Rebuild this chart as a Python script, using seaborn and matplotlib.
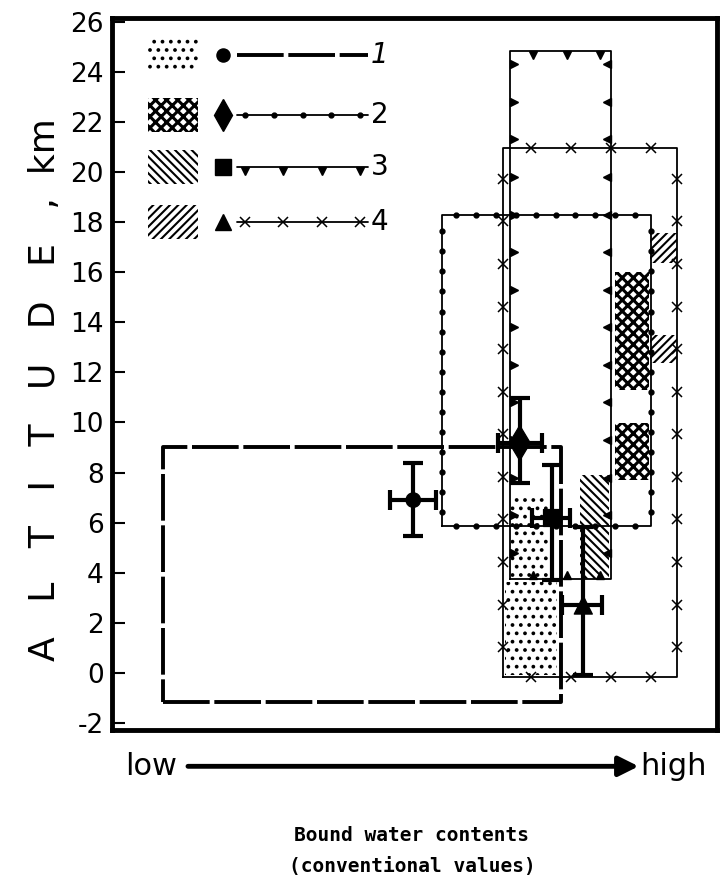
import numpy as np
import pandas as pd
import seaborn as sns
import matplotlib.pyplot as plt
from matplotlib.patches import Rectangle

# Altitude ranges of the four types (x in conventional units 0-100)
box_type = ['1', '2', '3', '4']
box_xmin = [8.4, 54.5, 65.8, 64.6]
box_xmax = [74.2, 89.1, 82.5, 93.4]
box_ymin = [-1.16, 5.87, 3.75, -0.16]
box_ymax = [9.02, 18.28, 24.83, 20.96]

# Shaded sub-ranges
fill_type = ['1', '1', '3', '2', '2', '4', '4']
fill_xmin = [65.9, 65.0, 77.4, 83.1, 83.1, 88.9, 88.9]
fill_xmax = [72.1, 73.6, 82.1, 88.8, 88.8, 93.4, 93.4]
fill_ymin = [3.79, -0.08, 3.75, 11.3, 7.7, 16.37, 12.38]
fill_ymax = [6.99, 3.63, 7.9, 16.0, 9.98, 17.56, 13.49]

# Mean values with spread
pt_type = ['1', '2', '3', '4']
pt_x = [49.8, 67.4, 72.7, 77.9]
pt_xlo = [45.9, 63.8, 69.4, 74.4]
pt_xhi = [53.6, 71.1, 75.7, 81.0]
pt_y = [6.9, 9.18, 6.19, 2.71]
pt_ylo = [5.47, 7.58, 3.71, -0.08]
pt_yhi = [8.38, 10.98, 8.3, 5.83]

yticks = list(range(-2, 27, 2))

sns.set_style('white')
plt.rcParams['font.family'] = ['DejaVu Sans']
plt.rcParams['hatch.linewidth'] = 1.5
plt.rcParams['axes.unicode_minus'] = False
plt.rcParams['text.color'] = 'black'
plt.rcParams['ytick.color'] = 'black'
plt.rcParams['ytick.labelcolor'] = 'black'

hatch_of = {'1': '..', '2': 'xxx', '3': '\\\\\\\\', '4': '////'}
hatch_lw = {'1': 1.5, '2': 2.2, '3': 1.5, '4': 1.5}
marker_of = {'1': 'o', '2': 'd', '3': 's', '4': '^'}
size_of = {'1': 110, '2': 320, '3': 150, '4': 170}

fig = plt.figure(figsize=(7.23, 8.81), dpi=100)
ax = fig.add_axes([112 / 723, 151 / 881, 605 / 723, 712 / 881])
ax.set_xlim(0, 100)
ax.set_ylim(-2.28, 26.15)


def hatched(xy, w, h, t, **kw):
    p = Rectangle(xy, w, h, facecolor='white', edgecolor='black',
                  hatch=hatch_of[t], lw=0, **kw)
    if hasattr(p, 'set_hatch_linewidth'):
        p.set_hatch_linewidth(hatch_lw[t])
    ax.add_patch(p)


# hatched sub-ranges
for t, x0, x1, y0, y1 in zip(fill_type, fill_xmin, fill_xmax, fill_ymin, fill_ymax):
    hatched((x0, y0), x1 - x0, y1 - y0, t, zorder=1)


def edge_marks(t, x0, x1, y0, y1):
    # marker spacing along each edge (data units)
    dx, dy = {'2': (3.3, 0.8), '3': (5.5, 1.5), '4': (6.6, 1.7)}[t]
    xs = np.arange(x0 + dx * 0.7, x1 - dx * 0.3, dx)
    ys = np.arange(y0 + dy * 0.7, y1 - dy * 0.3, dy)
    if t == '3':
        kw = dict(ms=6, color='k', ls='none', zorder=3)
        ax.plot(xs, [y1 - 0.15] * len(xs), marker='v', **kw)
        ax.plot(xs, [y0 + 0.15] * len(xs), marker='^', **kw)
        ax.plot([x0 + 0.6] * len(ys), ys, marker='>', **kw)
        ax.plot([x1 - 0.6] * len(ys), ys, marker='<', **kw)
        return
    if t == '2':
        kw = dict(marker='o', ms=3.5, color='k', ls='none', zorder=3)
    else:
        kw = dict(marker='x', ms=6.5, mew=1.1, color='k', ls='none', zorder=3)
    ax.plot(xs, [y0] * len(xs), **kw)
    ax.plot(xs, [y1] * len(xs), **kw)
    ax.plot([x0] * len(ys), ys, **kw)
    ax.plot([x1] * len(ys), ys, **kw)


for t, x0, x1, y0, y1 in zip(box_type, box_xmin, box_xmax, box_ymin, box_ymax):
    xs = [x0, x1, x1, x0, x0]
    ys = [y0, y0, y1, y1, y0]
    if t == '1':
        ax.plot(xs, ys, color='k', lw=2.8, ls=(0, (12, 1.2)), zorder=3)
    else:
        ax.plot(xs, ys, color='k', lw=1.3, zorder=3)
        edge_marks(t, x0, x1, y0, y1)

# mean points with spread
xerr = [np.subtract(pt_x, pt_xlo), np.subtract(pt_xhi, pt_x)]
yerr = [np.subtract(pt_y, pt_ylo), np.subtract(pt_yhi, pt_y)]
ax.errorbar(pt_x, pt_y, xerr=xerr, yerr=yerr, fmt='none', ecolor='k',
            elinewidth=3, capsize=7, capthick=3, zorder=5)
df = pd.DataFrame({'x': pt_x, 'y': pt_y, 'type': pt_type})
sns.scatterplot(data=df, x='x', y='y', style='type', markers=marker_of,
                size='type', sizes=size_of, color='k', edgecolor='k',
                legend=False, ax=ax, zorder=6)

# legend drawn by hand
rows = [0.948, 0.864, 0.791, 0.713]
for t, ry in zip(box_type, rows):
    hatched((0.060, ry - 0.024), 0.082, 0.048, t, transform=ax.transAxes,
            clip_on=False, zorder=4)
    ax.plot(0.183, ry, marker=marker_of[t], ms=np.sqrt(size_of[t]) * 0.9, color='k',
            transform=ax.transAxes, clip_on=False, zorder=4)
    lx = [0.207, 0.423]
    if t == '1':
        ax.plot(lx, [ry, ry], color='k', lw=2.8, ls=(0, (12, 1.2)), transform=ax.transAxes)
    else:
        ax.plot(lx, [ry, ry], color='k', lw=1.3, transform=ax.transAxes)
        mx = np.linspace(0.22, 0.41, 5 if t == '2' else 4)
        if t == '2':
            ax.plot(mx, [ry] * len(mx), 'o', ms=3.5, color='k', transform=ax.transAxes)
        elif t == '3':
            ax.plot(mx, [ry - 0.006] * len(mx), 'v', ms=6, color='k', transform=ax.transAxes)
        else:
            ax.plot(mx, [ry] * len(mx), 'x', ms=6.5, mew=1.1, color='k', transform=ax.transAxes)
    ax.text(0.428, ry, t, transform=ax.transAxes, ha='left', va='center',
            fontsize=20, style='italic' if t == '1' else 'normal')

# axes styling
ax.set_xticks([])
ax.set_yticks(yticks)
ax.tick_params(axis='y', direction='in', length=9, width=1.5, labelsize=19, pad=6, left=True)
for s in ax.spines.values():
    s.set_linewidth(3.5)
    s.set_color('k')
ax.set_xlabel('')
ax.set_ylabel('')

# low -> high arrow
ay = -0.051
ax.annotate('', xy=(0.875, ay), xytext=(0.121, ay), xycoords='axes fraction',
            arrowprops=dict(arrowstyle='-|>', lw=3.5, color='k', mutation_scale=30),
            annotation_clip=False)
ax.text(0.021, ay, 'low', transform=ax.transAxes, ha='left', va='center', fontsize=22)
ax.text(0.983, ay, 'high', transform=ax.transAxes, ha='right', va='center', fontsize=22)

fig.text(45 / 723, 1 - 390 / 881, 'A   L   T   I   T   U   D   E   ,  km', rotation=90,
         ha='center', va='center', fontsize=26)
fig.text(412 / 723, 1 - 851 / 881, 'Bound water contents\n(conventional values)',
         ha='center', va='center', fontsize=14, family='DejaVu Sans Mono',
         fontweight='bold', linespacing=1.75)

fig.savefig('out.png', dpi=100)
